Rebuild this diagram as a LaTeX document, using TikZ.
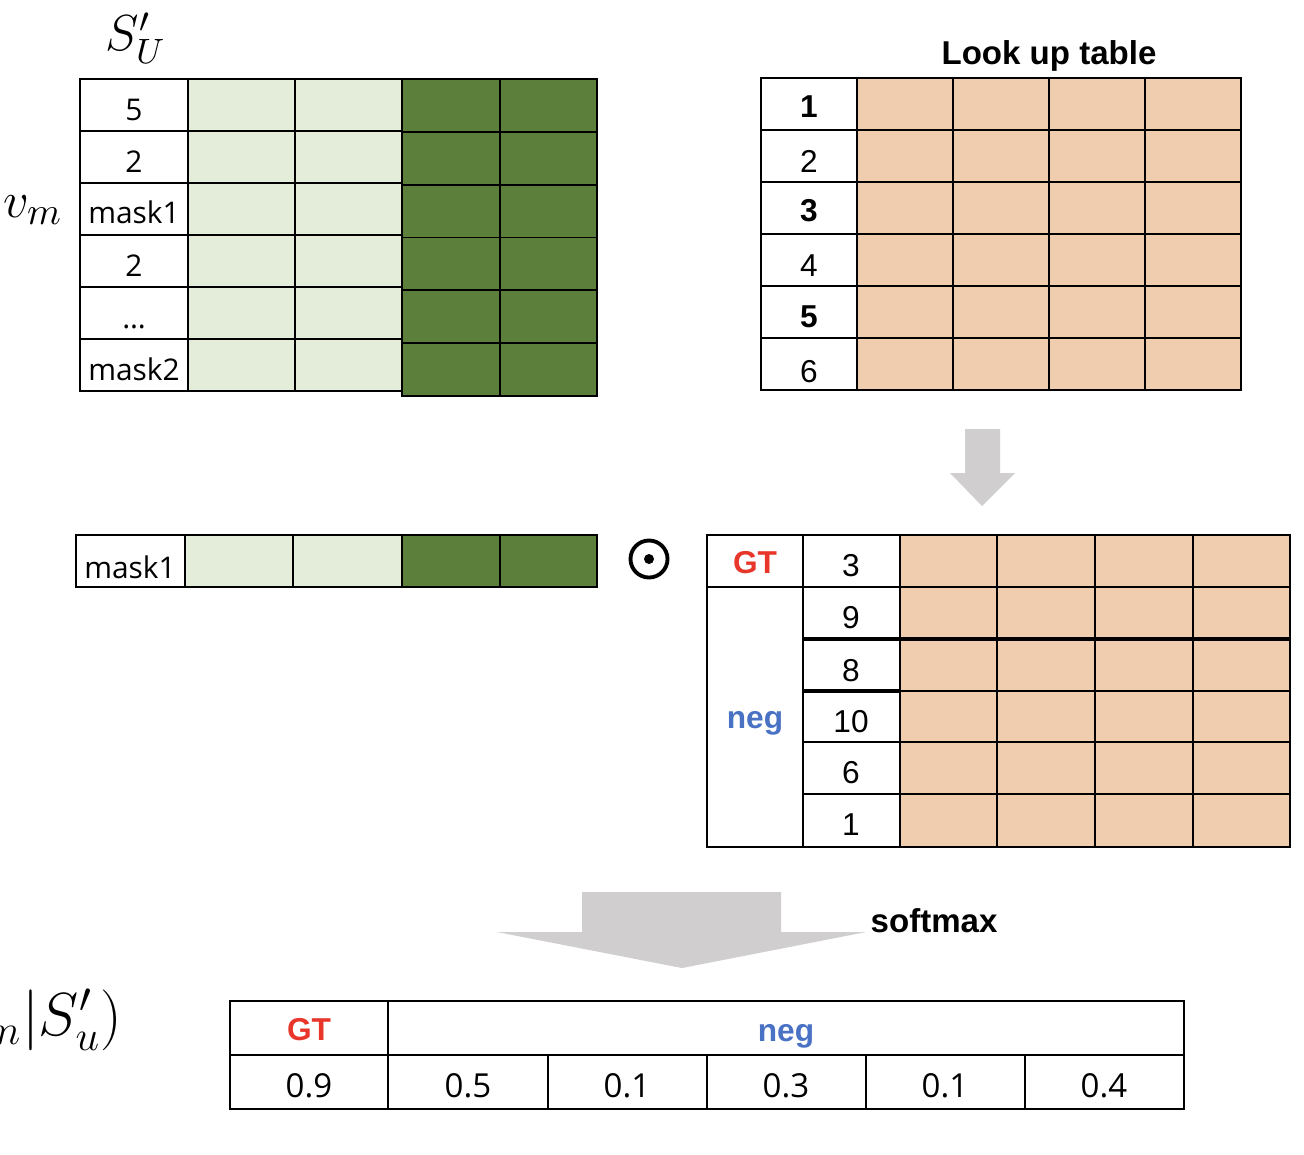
\documentclass[tikz,border=0pt]{standalone}
\usepackage{fontspec}
\setmainfont{Open Sans}
\newfontfamily\hsans{Liberation Sans}
\definecolor{lgreen}{HTML}{E3EDDA}
\definecolor{dgreen}{HTML}{5C803C}
\definecolor{peach}{HTML}{F1CDB0}
\definecolor{agray}{HTML}{D0CECE}
\definecolor{gtred}{HTML}{E8362B}
\definecolor{negblue}{HTML}{4A72C4}
\tikzset{
  cellline/.style={draw=black, line width=0.5pt},
  ctext/.style={inner sep=0pt, font=\fontsize{8.5}{10}\selectfont},
  vtext/.style={inner sep=0pt, font=\fontsize{9.4}{11}\selectfont},
  htext/.style={inner sep=0pt, font=\hsans\fontsize{9}{11}\selectfont},
  hbold/.style={inner sep=0pt, font=\hsans\bfseries\fontsize{9}{11}\selectfont},
  title/.style={inner sep=0pt, font=\hsans\bfseries\fontsize{9.4}{11}\selectfont},
  mathlbl/.style={inner sep=0pt, font=\fontsize{14.5}{17}\selectfont},
  blockarrow/.style={fill=agray, draw=none},
}
\begin{document}
\begin{tikzpicture}[x=0.01cm,y=-0.01cm]
\useasboundingbox (0,0) rectangle (1304,1154);
\fill[white] (0,0) rectangle (1304,1154);

% ---------- top-left table ----------
\node[mathlbl] (su) at (136,38) {$S'_U$};
\node[mathlbl, font=\fontsize{15.5}{18}\selectfont] (vm) at (33,210) {$v_m$};
\foreach \r in {0,...,5}{
  \pgfmathsetmacro\ya{79+52*\r}
  \pgfmathsetmacro\yb{131+52*\r}
  \filldraw[cellline, fill=white] (80,\ya) rectangle (188,\yb);
  \filldraw[cellline, fill=lgreen] (188,\ya) rectangle (295,\yb);
  \filldraw[cellline, fill=lgreen] (295,\ya) rectangle (402,\yb);
  \pgfmathsetmacro\yc{79+52.83*\r}
  \pgfmathsetmacro\yd{131.83+52.83*\r}
  \filldraw[cellline, fill=dgreen] (402,\yc) rectangle (500,\yd);
  \filldraw[cellline, fill=dgreen] (500,\yc) rectangle (597,\yd);
}
\node[ctext, anchor=base] (t1) at (134,120) {5};
\node[ctext, anchor=base] (t2) at (134,172) {2};
\node[ctext, anchor=base] (t3) at (134,223) {mask1};
\node[ctext, anchor=base] (t4) at (134,276) {2};
\node[ctext, anchor=base] (t5) at (134,328) {…};
\node[ctext, anchor=base] (t6) at (134,380) {mask2};

% ---------- look up table ----------
\node[title, anchor=base] (lut) at (1049,64) {Look up table};
\foreach \r in {0,...,5}{
  \pgfmathsetmacro\ya{78+52*\r}
  \pgfmathsetmacro\yb{130+52*\r}
  \filldraw[cellline, fill=white] (761,\ya) rectangle (857,\yb);
  \foreach \xa/\xb in {857/953,953/1049,1049/1145,1145/1241}{
    \filldraw[cellline, fill=peach] (\xa,\ya) rectangle (\xb,\yb);
  }
}
\node[hbold, anchor=base] (l1) at (809,117) {1};
\node[htext, anchor=base] (l2) at (809,172) {2};
\node[hbold, anchor=base] (l3) at (809,221) {3};
\node[htext, anchor=base] (l4) at (809,276) {4};
\node[hbold, anchor=base] (l5) at (809,327) {5};
\node[htext, anchor=base] (l6) at (809,382) {6};

% down arrow
\fill[blockarrow] (965,429) -- (1000,429) -- (1000,473) -- (1015,473) -- (982,506) -- (950,473) -- (965,473) -- cycle;

% ---------- mask row ----------
\filldraw[cellline, fill=white] (76,535) rectangle (185,587);
\filldraw[cellline, fill=lgreen] (185,535) rectangle (293,587);
\filldraw[cellline, fill=lgreen] (293,535) rectangle (402,587);
\filldraw[cellline, fill=dgreen] (402,535) rectangle (500,587);
\filldraw[cellline, fill=dgreen] (500,535) rectangle (597,587);
\node[ctext, anchor=base] (mrow) at (130,578) {mask1};

% odot
\node[circle, draw=black, line width=1.1pt, minimum size=0.37cm, inner sep=0pt] (odot) at (649,559) {};
\fill[black] (odot.center) circle (5);

% ---------- middle-right table ----------
\filldraw[cellline, fill=white] (707,535) rectangle (803,587);
\filldraw[cellline, fill=white] (707,587) rectangle (803,847);
\node[hbold, text=gtred, anchor=base] (gt1) at (755,573) {GT};
\node[hbold, text=negblue, anchor=base] (neg1) at (755,728) {neg};
\foreach \ya/\yb in {535/587,587/639,639/691,691/742,742/794,794/847}{
  \filldraw[cellline, fill=white] (803,\ya) rectangle (900,\yb);
  \foreach \xa/\xb in {900/997,997/1095,1095/1193,1193/1290}{
    \filldraw[cellline, fill=peach] (\xa,\ya) rectangle (\xb,\yb);
  }
}
\draw[line width=1pt] (803,639) -- (1290,639);
\draw[line width=1pt] (803,691) -- (900,691);
\node[htext, anchor=base] (m1) at (851,576) {3};
\node[htext, anchor=base] (m2) at (851,628) {9};
\node[htext, anchor=base] (m3) at (851,681) {8};
\node[htext, anchor=base] (m4) at (851,732) {10};
\node[htext, anchor=base] (m5) at (851,783) {6};
\node[htext, anchor=base] (m6) at (851,835) {1};

% ---------- softmax arrow ----------
\fill[blockarrow] (582,892) -- (781,892) -- (781,932) -- (866,932) -- (682,968) -- (497,932) -- (582,932) -- cycle;
\node[title, anchor=base west] (smax) at (870,932) {softmax};

% ---------- bottom table ----------
\begin{scope}
\clip (0,0) rectangle (1304,1154);
\node[inner sep=0pt, font=\fontsize{17.5}{20}\selectfont, anchor=base east] (pform) at (123,1035) {$p(v_m|S'_u)$};
\end{scope}
\filldraw[cellline, fill=white] (230,1001) rectangle (388,1055);
\filldraw[cellline, fill=white] (388,1001) rectangle (1184,1055);
\node[hbold, text=gtred, anchor=base] (gt2) at (309,1040) {GT};
\node[hbold, text=negblue, anchor=base] (neg2) at (786,1041) {neg};
\foreach \xa/\xb in {230/388,388/548,548/707,707/866,866/1025,1025/1184}{
  \filldraw[cellline, fill=white] (\xa,1055) rectangle (\xb,1109);
}
\node[vtext, anchor=base] (v1) at (309,1097) {0.9};
\node[vtext, anchor=base] (v2) at (468,1097) {0.5};
\node[vtext, anchor=base] (v3) at (627,1097) {0.1};
\node[vtext, anchor=base] (v4) at (786,1097) {0.3};
\node[vtext, anchor=base] (v5) at (945,1097) {0.1};
\node[vtext, anchor=base] (v6) at (1104,1097) {0.4};
\end{tikzpicture}
\end{document}
